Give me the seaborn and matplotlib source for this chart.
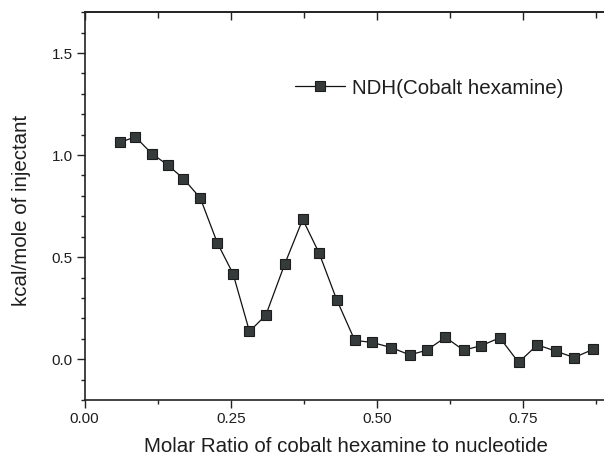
import numpy as np
import pandas as pd
import matplotlib
matplotlib.use("Agg")
import matplotlib.pyplot as plt
import seaborn as sns
from matplotlib.ticker import MultipleLocator

# ---- data ----
molar_ratio = [0.060, 0.087, 0.115, 0.142, 0.169, 0.198, 0.227, 0.254, 0.282, 0.310,
               0.342, 0.373, 0.401, 0.431, 0.462, 0.492, 0.524, 0.556, 0.585, 0.617,
               0.648, 0.678, 0.710, 0.742, 0.774, 0.806, 0.837, 0.870]
kcal_per_mole = [1.062, 1.089, 1.007, 0.952, 0.885, 0.789, 0.570, 0.418, 0.136, 0.216,
                 0.464, 0.685, 0.520, 0.292, 0.092, 0.082, 0.057, 0.021, 0.044, 0.107,
                 0.044, 0.066, 0.105, -0.016, 0.070, 0.039, 0.008, 0.049]
series_name = "NDH(Cobalt hexamine)"
x_label = "Molar Ratio of cobalt hexamine to nucleotide"
y_label = "kcal/mole of injectant"
x_ticks = [0.00, 0.25, 0.50, 0.75]
x_tick_labels = ["0.00", "0.25", "0.50", "0.75"]
y_ticks = [0.0, 0.5, 1.0, 1.5]
y_tick_labels = ["0.0", "0.5", "1.0", "1.5"]

df = pd.DataFrame({"x": molar_ratio, "y": kcal_per_mole, "series": series_name})

sns.set_style("white")
plt.rcParams["font.family"] = ["Liberation Sans", "DejaVu Sans"]
txt = "#1e1e1e"

fig = plt.figure(figsize=(6.04, 4.58), dpi=100)
ax = fig.add_axes([84.5 / 604, 58 / 458, (604 - 84.5) / 604, (458 - 58 - 12.2) / 458])

sns.lineplot(data=df, x="x", y="y", ax=ax, color="#111111", lw=0.9,
             marker="s", markersize=7.3, markerfacecolor="#353b3b",
             markeredgecolor="#1c1c1c", markeredgewidth=0.8,
             label=series_name, estimator=None, sort=False)

ax.set_xlim(0, 0.888)
ax.set_ylim(-0.2, 1.7)
ax.set_xticks(x_ticks)
ax.set_xticklabels(x_tick_labels)
ax.set_yticks(y_ticks)
ax.set_yticklabels(y_tick_labels)
ax.xaxis.set_minor_locator(MultipleLocator(0.125))
ax.yaxis.set_minor_locator(MultipleLocator(0.1))

for s in ["left", "bottom", "top"]:
    ax.spines[s].set_color("#222222")
    ax.spines[s].set_linewidth(1.2)
ax.spines["right"].set_visible(False)

ax.tick_params(axis="both", which="major", direction="out", length=6, width=1.0,
               color="#222222", labelsize=11, labelcolor=txt, pad=2.5)
ax.tick_params(axis="both", which="minor", direction="out", length=3, width=1.0,
               color="#222222")
ax.tick_params(left=True, bottom=True, right=False, top=False, which="both")

top = ax.secondary_xaxis("top")
top.set_xticks(x_ticks)
top.xaxis.set_minor_locator(MultipleLocator(0.125))
top.tick_params(which="major", direction="in", length=6, width=1.0, color="#222222",
                labeltop=False)
top.tick_params(which="minor", direction="in", length=4, width=1.0, color="#222222")
top.spines["top"].set_color("#222222")
top.spines["top"].set_linewidth(1.2)

ax.set_xlabel(x_label, fontsize=14.8, color=txt)
ax.set_ylabel(y_label, fontsize=14.8, color=txt)
ax.xaxis.set_label_coords(0.504, -0.095)
ax.yaxis.set_label_coords(-0.103, 0.49)

leg = ax.legend(loc="center left", bbox_to_anchor=(0.405, 0.8045), frameon=False,
                fontsize=14.8, handlelength=2.45, handletextpad=0.35,
                borderpad=0, borderaxespad=0)
for t in leg.get_texts():
    t.set_color(txt)

fig.savefig("out.png", dpi=100, facecolor="white")
